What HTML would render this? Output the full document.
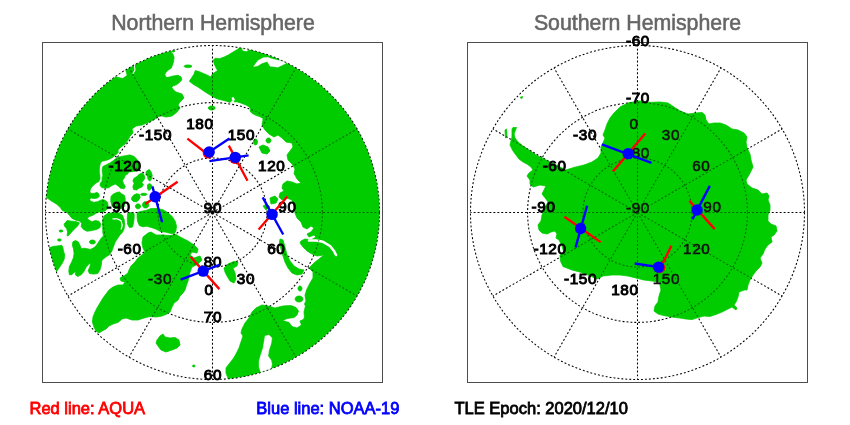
<!DOCTYPE html><html><head><meta charset="utf-8"><title>SNO</title><style>html,body{margin:0;padding:0;background:#fff}svg{display:block}text{font-family:"Liberation Sans",Arial,sans-serif}</style></head><body>
<svg width="850" height="425" viewBox="0 0 850 425">
<rect width="850" height="425" fill="#fff"/>
<clipPath id="clip212"><circle cx="212.5" cy="212.5" r="167.0"/></clipPath>
<g id="land212" clip-path="url(#clip212)" fill="#00cc00" stroke="#00cc00" stroke-width="0.6" stroke-linejoin="round">
<polygon points="170,30 170,51.2 172.9,54.1 174.1,57.6 173.5,61.8 172.4,65.3 171.2,68.2 168.2,70 165.9,72.4 164.7,74.7 166.5,77.6 169.4,77.1 173.5,75.9 178.2,75.3 181.2,77.1 181.8,80 179.4,82.4 176.5,84.7 172.9,85.9 171.8,87.6 173.5,90 176,92 182,94 184,98 180,102 178,105 180,108 177,112 172,116 166,117 160,115.5 154,119.5 148,122.5 142,125 136,126 132,129 133,133 130,136 128,140 125,144 121,147 118,150 118.2,152.4 115.3,155.3 112.4,157.6 108.8,159.4 105.3,160.6 101.8,161.2 100.3,163.5 99.6,166.5 99.3,169.4 99.3,172.4 99.8,175 100,178.8 98.8,181.6 96,183 93.2,185.4 90.8,188.2 89.9,191 90.4,193.4 94.1,193.4 96.9,192.4 98.8,193.8 99.3,196.2 97.4,198.1 94.1,198.5 91.3,198.1 89.4,199.5 90.8,201.4 94.1,202.3 97.4,201.8 100.2,200.4 102.6,199.5 105.4,200.4 107.5,202.3 108,205.1 107.5,207.9 106,210.3 103.5,211.7 100,211.8 96.5,212.9 92.9,215.3 89.4,216.5 87.1,218.2 88.8,220 91.8,221.8 95.3,220.6 98.8,221.2 100.8,224.1 100,227.6 96.5,229.4 91.8,230.6 87.1,231.2 83.5,229.4 81.2,226.5 81.8,223.5 80,221.2 75.3,220 71.8,218.2 69.4,215.3 67.1,212.4 62.4,210.6 60,207.1 56.5,204.1 51.8,201.2 45.9,197.1 40,194 30,190 30,30"/>
<polygon points="124.1,155.9 130,154.9 134.1,156.5 137,159.4 139,165 139.4,170 134,171.5 128.8,171.8 127.6,174.1 125.3,175.3 124.1,178.2 122.4,180.6 123.5,183.5 125.3,186.5 124.1,188.8 120.6,188.2 118.2,185.9 115.3,184.1 112.4,185.3 108.8,187.6 105.3,188.2 101.8,187.6 100,185.3 100.5,182.9 102,181.2 102.2,178.2 102.9,175.3 102.4,172.4 102.2,169.4 102.9,166.5 106.5,164.7 110,162.9 113.5,160.6 116,158.6 119,157"/>
<polygon points="134.1,178.2 137.1,176.5 139.4,174.1 142.4,172.9 144.2,175.3 144.8,178.2 143.5,180.6 141.8,182.4 143.5,184.7 141.8,187.1 138.8,188.2 136.5,190 133.5,189.4 132.9,186.5 134.1,183.5 132.9,180.6"/>
<polygon points="146.3,171.2 149.2,169.4 151,171.8 152.2,175.3 151.6,178.8 149.8,181.2 148.1,179.4 147.5,176.5 145.9,174.1"/>
<polygon points="147.6,184.7 150,183.5 151.8,185.3 151.2,188.8 148.8,190.6 147.4,188.2"/>
<polygon points="111,196.6 113,194.3 116.7,192.4 119.5,192 121.4,193.8 124.2,195.2 125.2,198.5 125,203 124,207 120,209 115,208.5 112,206 110.8,201"/>
<polygon points="131.8,197.6 133.6,195.2 136.5,193.8 139.3,194.3 140.2,197.1 138.8,199.9 136.5,201.8 133.2,201.4 131.6,199.7"/>
<polygon points="137.1,212.6 140.6,211.5 146.5,210.3 151.2,208.5 157.1,208.5 162.9,209.7 167.6,212.6 172.4,216.8 175.3,221.5 176.5,226.2 175.9,230.9 174.1,233.8 170,233.2 165.3,232.1 160.6,231.5 155.9,229.1 151.2,227.4 146.5,226.2 142.9,226.8 139.4,225.6 137.6,221.5 137.1,217.4"/>
<polygon points="127.6,213.5 131.2,212.4 134.1,213.5 134.1,218.2 133.5,222.9 132.4,227.1 129.4,227.6 127.6,224.1 127.3,218.8"/>
<polygon points="102.8,219.4 104.1,215.9 107.6,213.5 112.9,212.8 118.8,212.9 122.4,215.3 124.1,219.4 124.7,224.1 124.1,228.8 122.4,232.4 120,234.7 118.5,237.1 115.3,241.8 113.5,246.5 111.8,251.2 109.4,254.7 106.5,256.5 104.1,258.2 101.8,260.6 101.2,265.3 100,270 97.6,273.5 93.5,274.1 89.4,273.5 88.2,270.6 90,266.5 90.6,262.9 88.8,264.1 85.9,267.6 84.1,271.2 81.2,274.7 77.6,276.5 75.3,274.7 75.9,271.2 74.1,272.4 71.8,274.7 69.4,274.7 68.8,271.2 69.4,266.5 71.8,261.8 73.5,257.6 74.1,253.5 73.5,248.8 72.4,245.3 72.9,241.8 75.3,240.6 78.2,241.8 80,245.3 81.2,248.8 84.1,248.2 87.1,248.8 90.6,249.4 94.1,247.6 96.5,245.3 98.8,241.8 101.2,238.2 103.5,235.9 102.8,232.4 102.8,228.8 102.6,224.1"/>
<polygon points="64.1,224.1 67.1,220.6 71.8,221.2 76.5,221.8 79.4,222.9 77.6,225.9 74.7,228.8 71.8,231.8 68.8,235.3 67.1,235.9 67.6,231.8 66.5,228.2 64.7,226.5"/>
<polygon points="50,247.6 52.9,246.5 57.6,245.9 61.8,245.3 62.9,247.6 63.5,251.2 64.7,254.7 64.1,259.4 62.4,262.9 60,266.5 57.6,270 52,278 40,275 38,245"/>
<polygon points="95.4,242 94.8,243.2 93.3,243.9 91.5,243.9 90,243.2 89.4,242 90,240.8 91.5,240.1 93.3,240.1 94.8,240.8"/>
<polygon points="61.2,240 60.9,240.7 60,241.1 58.8,241.1 57.9,240.7 57.6,240 57.9,239.3 58.8,238.9 60,238.9 60.9,239.3"/>
<polygon points="63,231 62.6,231.6 61.6,232 60.4,232 59.4,231.6 59,231 59.4,230.4 60.4,230 61.6,230 62.6,230.4"/>
<polygon points="148,233 151,232 156,235 162,235 170,235.5 176,234.5 182,238 188,241 194,245 198,249 197,253 192,252 190,255 194,258 200,256 202,260 198,264 192,267 190,272 189,276 188,281 186.5,285 185,290 183,293 180,296 178,300 174,303 172,307 170,312 167,314 162,316 156,317 150,316.4 144,318 138,320 132,320 126,318 122,319 118,322.4 113,324 109,326 106,329 102,331 99,333 96,331 94,327 92.4,322 93,317 95,312 97,308 100,303 103,298 106,294 109,290 113,287 118,285 123,285 125,282 121,281 120,278 124,276 128,273 129,270 131,266 135,262 138,258 142,255 145,252 143,248 142,243 143,237"/>
<polygon points="157,340 160,336 163,334 165,337 170,338 175,337.4 179,340 180,345 177,348 172,350 166,352 161,350 158,346 156,343"/>
<polygon points="224,268 228,264 234,261.4 238,262 237,266 233,268 235,273 236,279 234,283 230,281 227,276 225,272"/>
<polygon points="250,30 246.5,46 240.6,46 237.6,49.4 233.5,51.8 228.8,54.7 224.1,57.1 219.4,58.8 215.3,58.2 213.5,60 214.1,63.5 215.9,67.6 217.6,70.6 214.7,72.4 212.4,74.1 210.6,77.1 207.6,75.3 203.5,73.5 199.4,71.8 195.3,70.6 194.1,74.1 191.8,77.6 189.4,81.2 192.9,84.1 197.1,86.5 200.6,88.8 204.1,91.2 207.6,93.5 210.6,95.3 213.5,97.1 217.1,98.8 221.8,100 226.5,101.2 230,102.4 231.8,100.6 231.2,97.6 233.5,96.5 235.3,99.4 234.1,101.8 237.1,101.8 240.6,102.9 245.3,104.7 248.8,106.5 250.6,108.8 250,111.2 252.4,113.5 255.9,115.3 259.4,116.5 262.9,118.2 263,120 262,125 265,130 269,134 274,137 278,135 282,138 286,142 292,143 293,147 290,151 287,155 288,160 292,164 295,169 294,174 295,175 297,179 301,183 297,184 292,182 287,181 283,184 282,188 284,191 280,193 279,197 282,200 287,198 292,200 294,206 295,213 297,218 301,222 303,227 307,229 311,226 314,228 311,232 307,234 309,237 314,235 316,237 311,240 305,239 301,241 300,243 303,247 307,251 312,254 317,256 324,255 319,259 314,263 309,268 313,272 313,278 310,283 307,289 305,295 306,301 304.5,304 305.5,306 304,312 304.5,317 303.5,319.5 300,321 301.5,325 297,328 292,326.5 289,322.5 282.5,320.5 287,318.5 294,317.5 297,315 298.5,311 296,307.5 291,305.6 283,306 275,308 268,306 262,305 256,308 252,312 249,318 245,323 242,329 241,333 243,336 241,342 239,348 236,354 233,359 229,364 226,368 226,373 228,378 228,395 400,395 400,30"/>
<path d="M265 336 L269 335 L272 338 L271 344 L269 350 L268 356 L271 360 L272 364 L270 374 L262 376 L259 367 L259 361 L261 354 L263 348 L264 342Z" fill="#fff" stroke="#fff" stroke-width="0.3"/>
<path d="M253.5 66.5 L258 60.5 L263 57.8 L268 57.2 L271 58.5 L278 60.3 L284.4 60.6 L288 61.5 L285.6 63.6 L278 67.2 L270 66.2 L267.2 61.5 L262 63.2 L257.5 66Z" fill="#fff" stroke="#fff" stroke-width="0.3"/>
<path d="M240.6 44 L242.9 50.6 L246.5 51.2 L249 49.5 L250 44Z" fill="#fff" stroke="#fff" stroke-width="0.3"/>
<path d="M309 240.5L316 240.5L323 241.8L330 246L334 251L336 255" fill="none" stroke="#fff" stroke-width="2.6" stroke-linecap="round"/>
<path d="M112.9 218.8L117 218.8L121 220.6L122.3 225.3L121.2 229" fill="none" stroke="#fff" stroke-width="1.2" stroke-linecap="round"/>
<path d="M113.5 75.2 L117 76.6 L122.6 78 L126.6 75.2 L125.4 70.5 L123 67Z" fill="#fff" stroke="#fff" stroke-width="0.3"/>
<path d="M134.3 64.5L135 70L133 73.6" fill="none" stroke="#fff" stroke-width="1.1" stroke-linecap="round"/>
<polygon points="195.2,366 194.9,366.5 194.2,366.9 193.4,366.9 192.7,366.5 192.4,366 192.7,365.5 193.4,365.1 194.2,365.1 194.9,365.5"/>
<polygon points="147,194.4 146.4,195.1 144.8,195.5 142.8,195.5 141.2,195.1 140.6,194.4 141.2,193.7 142.8,193.3 144.8,193.3 146.4,193.7"/>
<polygon points="140.6,206.3 140.1,207.8 138.8,208.7 137.2,208.7 135.9,207.8 135.4,206.3 135.9,204.8 137.2,203.9 138.8,203.9 140.1,204.8"/>
<polygon points="148.8,204.8 148.2,206.7 146.6,207.9 144.6,207.9 143,206.7 142.4,204.8 143,202.9 144.6,201.7 146.6,201.7 148.2,202.9"/>
<polygon points="259,147 263,145 268,147 270,151 267,154 262,153"/>
<polygon points="271,140.5 270.5,142 269.3,142.9 267.7,142.9 266.5,142 266,140.5 266.5,139 267.7,138.1 269.3,138.1 270.5,139"/>
<polygon points="257.5,142 257.1,143.8 256.1,144.9 254.9,144.9 253.9,143.8 253.5,142 253.9,140.2 254.9,139.1 256.1,139.1 257.1,140.2"/>
<polygon points="270,198 275,196 278,199 276,203 271,204"/>
<polygon points="263,206 267,204 270,207 266,210"/>
<polygon points="280,239 283,240 285,247 287,255 290,261 294,266 299,269 304,270 302,274 297,275 292,273 288,268 285,262 283,256 281,249 279.4,243"/>
<polygon points="302,288.5 301.6,290 300.6,290.9 299.4,290.9 298.4,290 298,288.5 298.4,287 299.4,286.1 300.6,286.1 301.6,287"/>
<polygon points="303,299 302.2,300.8 300.2,301.9 297.8,301.9 295.8,300.8 295,299 295.8,297.2 297.8,296.1 300.2,296.1 302.2,297.2"/>
<polygon points="215.2,108 214.5,109.2 212.8,109.9 210.6,109.9 208.9,109.2 208.2,108 208.9,106.8 210.6,106.1 212.8,106.1 214.5,106.8"/>
<polygon points="192,66.3 191.2,67.1 189.2,67.6 186.8,67.6 184.8,67.1 184,66.3 184.8,65.5 186.8,65 189.2,65 191.2,65.5"/>
<polygon points="175,51 174.6,51.6 173.6,52 172.4,52 171.4,51.6 171,51 171.4,50.4 172.4,50 173.6,50 174.6,50.4"/>
</g>
<g fill="none" stroke="#000" stroke-width="1.05" stroke-dasharray="1.9 2.05"><circle cx="212.5" cy="212.5" r="167.0"/><circle cx="212.5" cy="212.5" r="109.9"/><circle cx="212.5" cy="212.5" r="54.5"/><line x1="212.5" y1="212.5" x2="212.5" y2="45.5"/><line x1="212.5" y1="212.5" x2="296.0" y2="67.9"/><line x1="212.5" y1="212.5" x2="357.1" y2="129.0"/><line x1="212.5" y1="212.5" x2="379.5" y2="212.5"/><line x1="212.5" y1="212.5" x2="357.1" y2="296.0"/><line x1="212.5" y1="212.5" x2="296.0" y2="357.1"/><line x1="212.5" y1="212.5" x2="212.5" y2="379.5"/><line x1="212.5" y1="212.5" x2="129.0" y2="357.1"/><line x1="212.5" y1="212.5" x2="67.9" y2="296.0"/><line x1="212.5" y1="212.5" x2="45.5" y2="212.5"/><line x1="212.5" y1="212.5" x2="67.9" y2="129.0"/><line x1="212.5" y1="212.5" x2="129.0" y2="67.9"/></g>
<use href="#land212" opacity="0.5"/>
<clipPath id="clip637"><circle cx="637.5" cy="212.5" r="167.0"/></clipPath>
<g id="land637" clip-path="url(#clip637)" fill="#00cc00" stroke="#00cc00" stroke-width="0.6" stroke-linejoin="round">
<polygon points="640,101 650,102.4 660,102 668,103 674,107 680,111 688,114 696,113 702,112.4 705,115 706,120 709,124 714,123 720,123 726,125 732,129 738,130 744,133 747,137 746,142 747,148 750,154 751,160 753,167 751,171 749,175 746,180 747,184 752,188 758,190 762,194 767,193 769,196 768,200 770,205 770,210 768,215 768,221 771,224 776,226 777,231 774,235 771,237 772,242 768,245 765,249 763,254 760,258 762,263 760,267 756,271 753,275 750,280 748,285 747,290 744,290 739,292 738,297 736,302 734,305 737,308 736,310 732,307 728,309 722,312 716,314.4 710,316.4 704,316 698,317.6 692,319.6 686,319 680,318 672,317 664,315.6 658,314 654,311 655,306 658,302 659,296 661,290 660,285 659,282 652,281 644,280 640,279 636,278 628,276 620,275 612,275 603,276 597,279 588,275 580,272 572,270 567,268 563,266.5 560.5,261 560,255 564,253 562,246 559,240 556,238 557,234 555,231 551,232 547,234 542,233 539,230 538,225 541,221 542,215 545,208 548,202 546,199 542,194 544,190 546,186 540,185 533,187 530,184 530,180 527,176 529,173 533,170 531,167 527,164 523,162 519,159 516,155 513,151 510,145 512,137 512,129 513,127.5 516.5,127.5 514,134 515,138 518,142 523,146 529,150 536,155 542,158 546,160 556,165 566,170 574,167.4 584,165 592,162 598,158 601,153 601,147 603,143 605,138 603,135 605,130 607,124 610,118 614,113 620,107 628,103 638,101"/>
<polygon points="505,130 506.5,129 507,137 505.5,138"/>
<polygon points="520,97.5 522.5,96.5 522,98.5"/>
</g>
<g fill="none" stroke="#000" stroke-width="1.05" stroke-dasharray="1.9 2.05"><circle cx="637.5" cy="212.5" r="167.0"/><circle cx="637.5" cy="212.5" r="109.9"/><circle cx="637.5" cy="212.5" r="54.5"/><line x1="637.5" y1="212.5" x2="637.5" y2="45.5"/><line x1="637.5" y1="212.5" x2="721.0" y2="67.9"/><line x1="637.5" y1="212.5" x2="782.1" y2="129.0"/><line x1="637.5" y1="212.5" x2="804.5" y2="212.5"/><line x1="637.5" y1="212.5" x2="782.1" y2="296.0"/><line x1="637.5" y1="212.5" x2="721.0" y2="357.1"/><line x1="637.5" y1="212.5" x2="637.5" y2="379.5"/><line x1="637.5" y1="212.5" x2="554.0" y2="357.1"/><line x1="637.5" y1="212.5" x2="492.9" y2="296.0"/><line x1="637.5" y1="212.5" x2="470.5" y2="212.5"/><line x1="637.5" y1="212.5" x2="492.9" y2="129.0"/><line x1="637.5" y1="212.5" x2="554.0" y2="67.9"/></g>
<use href="#land637" opacity="0.5"/>
<g fill="none" stroke="#4d4d4d" stroke-width="1"><rect x="42.5" y="42.5" width="340" height="340"/><rect x="467.5" y="42.5" width="340" height="340"/></g>
<g font-size="15.3" fill="#000" stroke="#000" stroke-width="1" letter-spacing="0.6">
<text x="172.0" y="140.4" text-anchor="end">-150</text>
<text x="141.6" y="170.8" text-anchor="end">-120</text>
<text x="130.5" y="212.3" text-anchor="end">-90</text>
<text x="141.6" y="253.8" text-anchor="end">-60</text>
<text x="172.0" y="284.2" text-anchor="end" stroke-width="0.55" fill="#111" stroke="#111">-30</text>
<text x="213.5" y="295.3" text-anchor="end">0</text>
<text x="255.0" y="284.2" text-anchor="end">30</text>
<text x="285.4" y="253.8" text-anchor="end">60</text>
<text x="296.5" y="212.3" text-anchor="end">90</text>
<text x="285.4" y="170.8" text-anchor="end">120</text>
<text x="255.0" y="140.4" text-anchor="end">150</text>
<text x="213.5" y="129.3" text-anchor="end">180</text>
<text x="212.9" y="379.5" text-anchor="middle">60</text>
<text x="212.9" y="322.4" text-anchor="middle">70</text>
<text x="212.9" y="267.0" text-anchor="middle">80</text>
<text x="212.9" y="212.5" text-anchor="middle">90</text>
</g>
<g font-size="15.3" fill="#000" stroke="#000" stroke-width="1" letter-spacing="0.6">
<text x="597.0" y="284.2" text-anchor="end">-150</text>
<text x="566.6" y="253.8" text-anchor="end">-120</text>
<text x="555.5" y="212.3" text-anchor="end">-90</text>
<text x="566.6" y="170.8" text-anchor="end">-60</text>
<text x="597.0" y="140.4" text-anchor="end">-30</text>
<text x="638.5" y="129.3" text-anchor="end" stroke-width="0.55" fill="#111" stroke="#111">0</text>
<text x="680.0" y="140.4" text-anchor="end" stroke-width="0.55" fill="#111" stroke="#111">30</text>
<text x="710.4" y="170.8" text-anchor="end" stroke-width="0.55" fill="#111" stroke="#111">60</text>
<text x="721.5" y="212.3" text-anchor="end" stroke-width="0.55" fill="#111" stroke="#111">90</text>
<text x="710.4" y="253.8" text-anchor="end" stroke-width="0.55" fill="#111" stroke="#111">120</text>
<text x="680.0" y="284.2" text-anchor="end" stroke-width="0.55" fill="#111" stroke="#111">150</text>
<text x="638.5" y="295.3" text-anchor="end">180</text>
<text x="637.9" y="45.5" text-anchor="middle">-60</text>
<text x="637.9" y="102.6" text-anchor="middle">-70</text>
<text x="637.9" y="158.0" text-anchor="middle" stroke-width="0.55" fill="#111" stroke="#111">-80</text>
<text x="637.9" y="212.5" text-anchor="middle" stroke-width="0.55" fill="#111" stroke="#111">-90</text>
</g>
<line x1="187.4" y1="138.6" x2="210.5" y2="156.5" stroke="#ff0000" stroke-width="2.35"/>
<line x1="209.2" y1="152" x2="229.4" y2="138.6" stroke="#0000ff" stroke-width="2.35"/>
<line x1="228.8" y1="145.6" x2="247.5" y2="180.7" stroke="#ff0000" stroke-width="2.35"/>
<line x1="209.4" y1="161.2" x2="248.6" y2="155.3" stroke="#0000ff" stroke-width="2.35"/>
<line x1="145.3" y1="204" x2="177.6" y2="181.7" stroke="#ff0000" stroke-width="2.35"/>
<line x1="152.4" y1="186.4" x2="162.1" y2="222.3" stroke="#0000ff" stroke-width="2.35"/>
<line x1="258.6" y1="229.5" x2="287.4" y2="196.4" stroke="#ff0000" stroke-width="2.35"/>
<line x1="262.7" y1="197.4" x2="283.2" y2="234.5" stroke="#0000ff" stroke-width="2.35"/>
<line x1="190.6" y1="256.8" x2="219.4" y2="289.1" stroke="#ff0000" stroke-width="2.35"/>
<line x1="180.6" y1="279.7" x2="219.4" y2="264.8" stroke="#0000ff" stroke-width="2.35"/>
<circle cx="208.29999999999998" cy="153.0" r="5.6" fill="#ff0000"/>
<circle cx="209.2" cy="152" r="5.7" fill="#0000ff"/>
<circle cx="234.8" cy="158.3" r="5.6" fill="#ff0000"/>
<circle cx="235.3" cy="157.4" r="5.7" fill="#0000ff"/>
<circle cx="155.1" cy="196.8" r="5.7" fill="#0000ff"/>
<circle cx="272.1" cy="214.4" r="5.7" fill="#0000ff"/>
<circle cx="203.2" cy="271.1" r="5.7" fill="#0000ff"/>
<line x1="612.9" y1="171.5" x2="645.3" y2="133.5" stroke="#ff0000" stroke-width="2.35"/>
<line x1="601.8" y1="144.4" x2="651.5" y2="162.9" stroke="#0000ff" stroke-width="2.35"/>
<line x1="689.4" y1="200.9" x2="714.7" y2="229.1" stroke="#ff0000" stroke-width="2.35"/>
<line x1="692.4" y1="219.4" x2="709.8" y2="185.9" stroke="#0000ff" stroke-width="2.35"/>
<line x1="671.4" y1="245.8" x2="660.2" y2="268.5" stroke="#ff0000" stroke-width="2.35"/>
<line x1="634.7" y1="263.5" x2="658.6" y2="267.1" stroke="#0000ff" stroke-width="2.35"/>
<line x1="564.4" y1="216.8" x2="600.6" y2="242.1" stroke="#ff0000" stroke-width="2.35"/>
<line x1="587.1" y1="205.8" x2="575.6" y2="247.4" stroke="#0000ff" stroke-width="2.35"/>
<circle cx="628.2" cy="153.6" r="5.7" fill="#0000ff"/>
<circle cx="697.1" cy="210" r="5.7" fill="#0000ff"/>
<circle cx="659.7" cy="267.6" r="5.6" fill="#ff0000"/>
<circle cx="658.6" cy="267.1" r="5.7" fill="#0000ff"/>
<circle cx="580.6" cy="228.5" r="5.7" fill="#0000ff"/>
<g font-size="21.3" fill="#666" stroke="#666" stroke-width="0.55" text-anchor="middle"><text x="213" y="30.3">Northern Hemisphere</text><text x="637.5" y="30.3">Southern Hemisphere</text></g>
<g font-size="16.5" stroke-width="0.8"><text x="29.5" y="413.5" fill="#f00" stroke="#f00">Red line: AQUA</text><text x="256.3" y="413.5" fill="#00f" stroke="#00f">Blue line: NOAA-19</text><text x="454.5" y="413.5" fill="#000" stroke="#000">TLE Epoch: 2020/12/10</text></g>
</svg></body></html>
